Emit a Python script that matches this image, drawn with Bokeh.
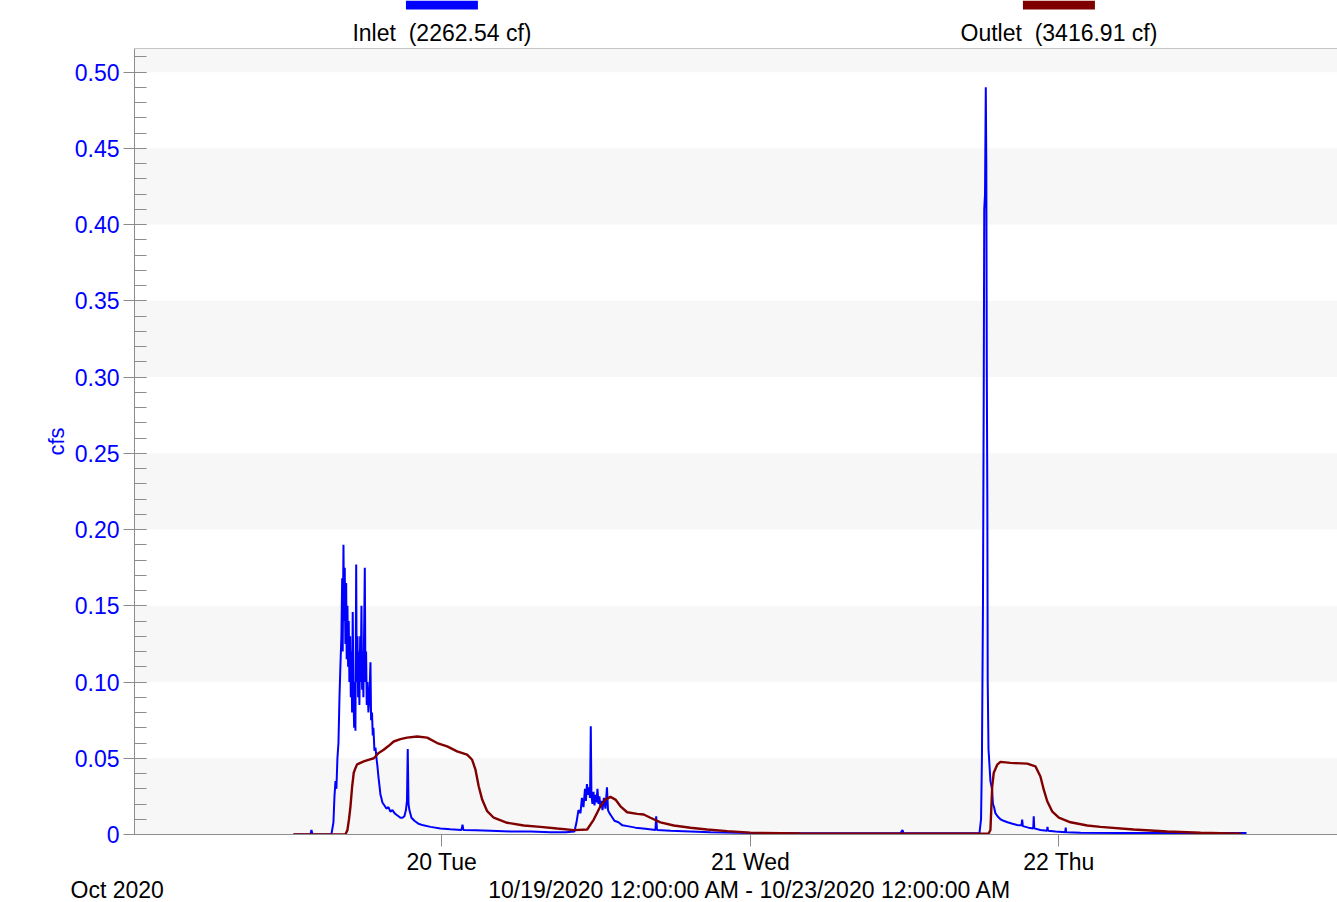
from datetime import datetime, timedelta

from bokeh.plotting import figure
from bokeh.layouts import column
from bokeh.models import (Range1d, DaysTicker, DatetimeTickFormatter, SingleIntervalTicker,
                          NumeralTickFormatter, BoxAnnotation, Span)
from bokeh.core.properties import value
from bokeh.embed import file_html
from bokeh.resources import INLINE

# ---------------- data ----------------
start = datetime(2020, 10, 19)
view_start_minutes = 5
view_days = 3.8995

# hours after 10/19/2020 00:00
inlet_hours = [
    12.45, 13.77, 13.85, 13.93, 15.40, 15.56, 15.64, 15.72, 15.79, 15.87,
    15.95, 16.03, 16.10, 16.18, 16.24, 16.28, 16.34, 16.39, 16.44, 16.49,
    16.55, 16.59, 16.65, 16.70, 16.75, 16.80, 16.86, 16.91, 16.96, 17.01,
    17.06, 17.12, 17.17, 17.22, 17.27, 17.33, 17.37, 17.43, 17.48, 17.53,
    17.58, 17.64, 17.68, 17.74, 17.79, 17.84, 17.89, 18.00, 18.05, 18.10,
    18.15, 18.21, 18.28, 18.36, 18.44, 18.49, 18.56, 18.62, 18.67, 18.75,
    18.83, 18.91, 18.98, 19.06, 19.14, 19.22, 19.29, 19.37, 19.53, 19.68,
    19.84, 19.99, 20.15, 20.31, 20.46, 20.62, 20.77, 20.93, 21.08, 21.20,
    21.28, 21.34, 21.40, 21.47, 21.63, 21.86, 22.17, 22.56, 23.11, 23.88,
    24.66, 25.52, 25.60, 25.67, 26.61, 27.77, 29.33, 30.89, 32.44, 33.61,
    34.31, 34.47, 34.62, 34.78, 34.89, 35.01, 35.13, 35.20, 35.28, 35.36,
    35.44, 35.52, 35.58, 35.63, 35.71, 35.79, 35.87, 35.94, 36.02, 36.10,
    36.18, 36.25, 36.33, 36.41, 36.49, 36.60, 36.72, 36.84, 36.92, 37.03,
    37.19, 37.42, 37.73, 38.04, 38.43, 39.06, 39.83, 40.61, 40.67, 40.73,
    41.78, 43.33, 44.89, 48.00, 51.89, 55.78, 59.67, 59.83, 59.91, 63.56,
    65.51, 65.82, 65.94, 66.01, 66.09, 66.15, 66.19, 66.25, 66.31, 66.35,
    66.39, 66.43, 66.46, 66.52, 66.60, 66.67, 66.79, 66.87, 66.95, 67.06,
    67.22, 67.45, 67.69, 68.00, 68.39, 68.85, 69.09, 69.14, 69.19, 69.63,
    70.00, 70.04, 70.08, 70.56, 71.07, 71.11, 71.15, 71.73, 72.49, 72.53,
    72.56, 73.68, 76.79, 81.46, 86.59,
]
inlet_cfs = [
    0.0, 0.0, 0.003, 0.0, 0.0, 0.008, 0.025, 0.035, 0.030, 0.050,
    0.060, 0.090, 0.110, 0.130, 0.168, 0.120, 0.190, 0.140, 0.175, 0.125,
    0.165, 0.115, 0.150, 0.110, 0.140, 0.100, 0.130, 0.090, 0.120, 0.080,
    0.146, 0.090, 0.070, 0.100, 0.068, 0.177, 0.100, 0.130, 0.090, 0.120,
    0.085, 0.130, 0.100, 0.150, 0.095, 0.120, 0.090, 0.175, 0.100, 0.120,
    0.085, 0.100, 0.080, 0.090, 0.113, 0.075, 0.080, 0.065, 0.070, 0.055,
    0.057, 0.050, 0.045, 0.038, 0.032, 0.026, 0.024, 0.021, 0.019, 0.017,
    0.018, 0.015, 0.016, 0.014, 0.013, 0.012, 0.011, 0.011, 0.012, 0.016,
    0.022, 0.056, 0.020, 0.016, 0.011, 0.009, 0.007, 0.006, 0.005, 0.004,
    0.0035, 0.003, 0.0065, 0.003, 0.0028, 0.0025, 0.002, 0.002, 0.0015, 0.0015,
    0.002, 0.008, 0.016, 0.014, 0.024, 0.018, 0.030, 0.022, 0.033, 0.026,
    0.031, 0.024, 0.071, 0.026, 0.020, 0.028, 0.019, 0.026, 0.021, 0.030,
    0.020, 0.025, 0.018, 0.022, 0.016, 0.024, 0.017, 0.031, 0.016, 0.014,
    0.012, 0.009, 0.008, 0.006, 0.0055, 0.0045, 0.0038, 0.003, 0.012, 0.003,
    0.0025, 0.002, 0.0015, 0.001, 0.0008, 0.0008, 0.0008, 0.003, 0.0008, 0.0008,
    0.0008, 0.001, 0.010, 0.050, 0.150, 0.290, 0.410, 0.420, 0.490, 0.440,
    0.300, 0.220, 0.100, 0.056, 0.045, 0.035, 0.030, 0.020, 0.018, 0.014,
    0.012, 0.010, 0.009, 0.008, 0.007, 0.006, 0.006, 0.0098, 0.0055, 0.0045,
    0.004, 0.012, 0.004, 0.003, 0.0025, 0.005, 0.0025, 0.002, 0.0015, 0.0045,
    0.0015, 0.0012, 0.001, 0.001, 0.001,
]

outlet_hours = [
    12.45, 16.49, 16.65, 16.77, 16.88, 17.01, 17.14, 17.27, 17.40, 17.66,
    17.92, 18.28, 18.70, 19.08, 19.47, 19.84, 20.25, 20.77, 21.29, 22.07,
    22.85, 23.63, 24.41, 25.18, 25.96, 26.35, 26.61, 26.86, 27.13, 27.52,
    28.03, 29.07, 30.37, 31.66, 32.96, 34.26, 35.30, 35.81, 36.33, 36.72,
    37.11, 37.50, 37.89, 38.41, 39.19, 39.70, 40.22, 41.00, 42.04, 43.33,
    44.63, 46.19, 48.00, 51.89, 59.67, 66.52, 66.67, 66.81, 66.93, 67.20,
    67.45, 68.23, 69.53, 70.17, 70.56, 70.82, 71.09, 71.47, 71.99, 72.90,
    74.20, 75.23, 77.80, 80.42, 83.01, 86.20,
]
outlet_cfs = [
    0.0, 0.0, 0.003, 0.010, 0.018, 0.031, 0.0405, 0.0435, 0.046, 0.047,
    0.048, 0.049, 0.050, 0.0535, 0.0556, 0.058, 0.061, 0.0625, 0.0635, 0.0643,
    0.0635, 0.060, 0.0578, 0.0545, 0.0524, 0.049, 0.0425, 0.0316, 0.0229, 0.0153,
    0.011, 0.0077, 0.0059, 0.005, 0.0039, 0.0029, 0.0033, 0.0098, 0.0185, 0.0229,
    0.0247, 0.0229, 0.0185, 0.0146, 0.0135, 0.0131, 0.011, 0.008, 0.0059, 0.0044,
    0.0033, 0.0022, 0.0012, 0.0007, 0.0005, 0.0005, 0.003, 0.0316, 0.0405, 0.0458,
    0.0476, 0.047, 0.0465, 0.0447, 0.038, 0.0294, 0.0218, 0.0152, 0.011, 0.008,
    0.0059, 0.005, 0.0033, 0.002, 0.0011, 0.0005,
]

series_names = ["Inlet", "Outlet"]
series_totals_cf = [2262.54, 3416.91]
series_colors = ["#0000ff", "#800000"]
legend_day_offsets = [1, 3]
period_text = "10/19/2020 12:00:00 AM - 10/23/2020 12:00:00 AM"
period_center_day = 2
month_text = "Oct 2020"

y_top = 0.5155
y_step = 0.05

# ---------------- styling / layout ----------------
FONT = "Liberation Sans"
FS = "23px"
GRAY = "#8c8c8c"
BAND = "#f7f7f7"
W = 1337
LEFT = 134          # frame left edge in px
FRAME_W = W - LEFT
MONTH_LEFT_PX = 70  # left edge of the "Oct 2020" caption
LG_H = 47
FRAME_H = 787
BOTTOM = 42
MAIN_H = 1 + FRAME_H + BOTTOM
CAP_H = 902 - LG_H - MAIN_H


def to_dt(hours):
    return [start + timedelta(hours=h) for h in hours]


x0 = start + timedelta(minutes=view_start_minutes)
x1 = x0 + timedelta(days=view_days)
x_range = Range1d(x0, x1)
sec_per_px = (x1 - x0).total_seconds() / FRAME_W

# ---------------- main plot ----------------
p = figure(width=W, height=MAIN_H, x_axis_type="datetime", x_range=x_range,
           y_range=Range1d(0, y_top), output_backend="svg", toolbar_location=None,
           min_border_left=LEFT, min_border_right=0, min_border_top=1, min_border_bottom=BOTTOM)
p.outline_line_color = None
p.grid.visible = False
p.background_fill_color = "white"
p.border_fill_color = "white"

n_bands = int(y_top / y_step) + 1
for k in range(0, n_bands, 2):
    lo = k * y_step
    hi = (k + 1) * y_step
    if hi > y_top:
        band = BoxAnnotation(bottom=lo, fill_color=BAND, fill_alpha=1.0,
                             line_color=None, level="underlay")
    else:
        band = BoxAnnotation(bottom=lo, top=hi, fill_color=BAND, fill_alpha=1.0,
                             line_color=None, level="underlay")
    p.add_layout(band)

p.add_layout(Span(location=y_top, dimension="width", line_color=GRAY, line_width=1))

p.line(to_dt(inlet_hours), inlet_cfs, color=series_colors[0], line_width=2)
p.line(to_dt(outlet_hours), outlet_cfs, color=series_colors[1], line_width=2.4)

xa = p.xaxis[0]
xa.ticker = DaysTicker(days=list(range(1, 32)), num_minor_ticks=0)
xa.formatter = DatetimeTickFormatter(days="%d %a")
xa.major_tick_out = 12
xa.major_tick_in = 0
xa.minor_tick_line_color = None
xa.axis_line_color = GRAY
xa.major_tick_line_color = GRAY
xa.major_label_text_font = FONT
xa.major_label_text_font_size = FS
xa.major_label_text_color = "black"
xa.major_label_standoff = 2

ya = p.yaxis[0]
ya.ticker = SingleIntervalTicker(interval=y_step, num_minor_ticks=5)
ya.formatter = NumeralTickFormatter(format="0.00")
ya.major_label_overrides = {0: "0"}
ya.major_tick_out = 11
ya.major_tick_in = 12
ya.minor_tick_out = 0
ya.minor_tick_in = 12
ya.axis_line_color = GRAY
ya.major_tick_line_color = GRAY
ya.minor_tick_line_color = GRAY
ya.major_label_text_font = FONT
ya.major_label_text_font_size = FS
ya.major_label_text_color = "#0000ff"
ya.major_label_standoff = 4
ya.axis_label = "cfs"
ya.axis_label_text_font = FONT
ya.axis_label_text_font_size = "22px"
ya.axis_label_text_font_style = "normal"
ya.axis_label_text_color = "#0000ff"
ya.axis_label_standoff = 3

# ---------------- legend strip (top) ----------------
lg = figure(width=W, height=LG_H, x_axis_type="datetime", x_range=x_range,
            y_range=Range1d(0, LG_H), output_backend="svg", toolbar_location=None,
            x_axis_location=None, y_axis_location=None,
            min_border_left=LEFT, min_border_right=0, min_border_top=0, min_border_bottom=0)
lg.outline_line_color = None
lg.grid.visible = False

centers = [start + timedelta(days=d) for d in legend_day_offsets]
half = timedelta(hours=2.8)
lg.quad(left=[c - half for c in centers], right=[c + half for c in centers],
        bottom=[LG_H - 9] * 2, top=[LG_H] * 2, fill_color=series_colors, line_color=None)
labels = [f"{n}\u00a0 ({t:.2f} cf)" for n, t in zip(series_names, series_totals_cf)]
lg.text(x=centers, y=[LG_H - 32] * 2, text=labels, text_align="center", text_baseline="middle",
        text_font=value(FONT), text_font_size=FS, text_color="black")

# ---------------- caption strip (bottom, separate root so its frame spans the full width) ----
cap_x0 = x0 - timedelta(seconds=LEFT * sec_per_px)
cap = figure(width=W, height=CAP_H, x_axis_type="datetime",
             x_range=Range1d(cap_x0, x1), y_range=Range1d(0, CAP_H),
             output_backend="svg", toolbar_location=None,
             x_axis_location=None, y_axis_location=None,
             min_border_left=0, min_border_right=0, min_border_top=0, min_border_bottom=0)
cap.outline_line_color = None
cap.grid.visible = False
cap_y = 902 - 889  # caption centre line, measured up from the page bottom
month_x = cap_x0 + timedelta(seconds=MONTH_LEFT_PX * sec_per_px)
cap.text(x=[month_x], y=[cap_y], text=[month_text], text_align="left",
         text_baseline="middle", text_font=value(FONT), text_font_size=FS, text_color="black")
cap.text(x=[start + timedelta(days=period_center_day)], y=[cap_y], text=[period_text],
         text_align="center", text_baseline="middle", text_font=value(FONT),
         text_font_size=FS, text_color="black")

open("out.html", "w").write(file_html([column(lg, p, spacing=0), cap], INLINE))
